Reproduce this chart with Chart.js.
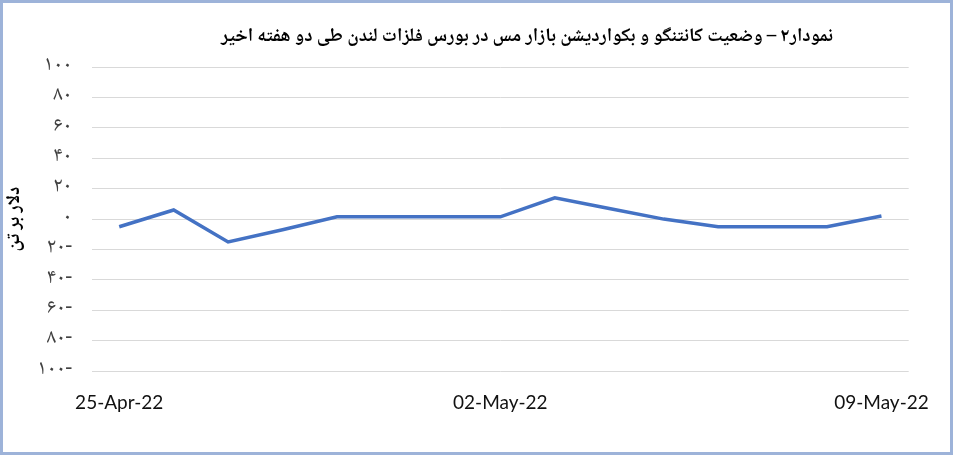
<!DOCTYPE html>
<html>
<head>
<meta charset="utf-8">
<script src="https://cdn.jsdelivr.net/npm/chart.js@4/dist/chart.umd.min.js"></script>
<style>
  html, body { margin: 0; padding: 0; background: #fff; }
  #box { width: 953px; height: 455px; box-sizing: border-box; border: 3px solid #9db3d9; background: #fff; }
  canvas { display: block; }
</style>
</head>
<body>
<div id="box"><canvas id="chart" width="947" height="449"></canvas></div>
<script>
'use strict'

// daily dates, only every 7th one is labelled on the axis
const days = ["25-Apr-22","26-Apr-22","27-Apr-22","28-Apr-22","29-Apr-22","30-Apr-22","01-May-22",
              "02-May-22","03-May-22","04-May-22","05-May-22","06-May-22","07-May-22","08-May-22","09-May-22"];
// contango / backwardation, dollars per tonne
const spread = [-5, 6, -15, -7, 1.5, 1.5, 1.5, 1.5, 14, 7, 0, -5, -5, -5, 2];
const yTicks = [100, 80, 60, 40, 20, 0, -20, -40, -60, -80, -100];

const titleText = "نمودار۲ – وضعیت کانتنگو و بکواردیشن بازار مس در بورس فلزات لندن طی دو هفته اخیر";
const yTitle = "دلار بر تن";

function faDigits(n) {
  const fa = "۰۱۲۳۴۵۶۷۸۹";
  return String(Math.abs(n)).replace(/\d/g, d => fa[d]) + (n < 0 ? "-" : "");
}

const arabicFont = "'Noto Naskh Arabic', 'Noto Sans Arabic', 'DejaVu Sans Condensed', 'DejaVu Sans', sans-serif";

// the title in the original sits a bit right of centre, so draw it ourselves
const offsetTitle = {
  id: 'offsetTitle',
  afterDraw: function (chart) {
    const ctx = chart.ctx;
    ctx.save();
    ctx.font = "bold 19px " + arabicFont;
    ctx.fillStyle = '#000';
    ctx.textAlign = 'center';
    ctx.textBaseline = 'middle';
    ctx.fillText(titleText, 524, 36);
    ctx.restore();
  }
};

new Chart(document.getElementById('chart').getContext('2d'), {
  type: 'line',
  data: {
    labels: days,
    datasets: [{
      data: spread,
      borderColor: '#4472c4',
      borderWidth: 3.5,
      pointRadius: 0,
      tension: 0,
      fill: false
    }]
  },
  plugins: [offsetTitle],
  options: {
    responsive: false,
    animation: false,
    layout: { padding: { left: 0, right: 38, top: 64, bottom: 18 } },
    plugins: {
      legend: { display: false },
      tooltip: { enabled: false },
      title: { display: false }
    },
    scales: {
      x: {
        offset: true,
        grid: { display: false, drawTicks: false },
        border: { display: false },
        ticks: {
          autoSkip: false,
          maxRotation: 0,
          padding: 20,
          color: '#111',
          font: { family: 'Lato, sans-serif', size: 19 },
          callback: function (v, i) { return i % 7 === 0 ? days[i] : ''; }
        }
      },
      y: {
        min: -100,
        max: 100,
        afterBuildTicks: function (scale) { scale.ticks = yTicks.map(v => ({ value: v })); },
        afterFit: function (scale) { scale.width = 89; },
        grid: { color: '#d9d9d9', lineWidth: 1, drawTicks: false },
        border: { display: false },
        ticks: {
          padding: 20,
          color: '#404040',
          font: { family: arabicFont, size: 21 },
          callback: function (v) { return faDigits(v); }
        },
        title: {
          display: true,
          text: yTitle,
          color: '#000',
          font: { family: arabicFont, size: 19, weight: 'bold' },
          padding: { top: 2, bottom: 0 }
        }
      }
    }
  }
});
</script>
</body>
</html>
